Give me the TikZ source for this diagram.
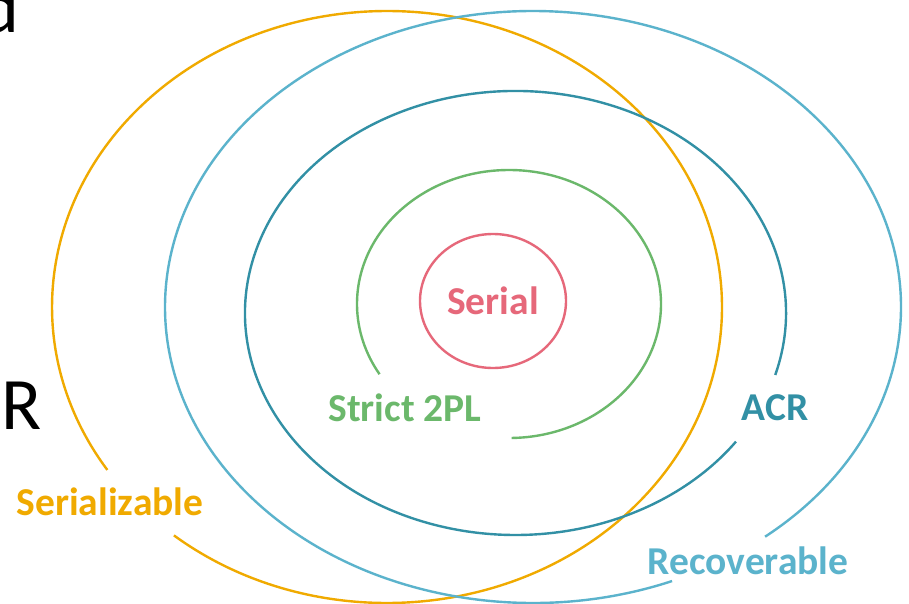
\documentclass[tikz,border=0pt]{standalone}
\usepackage{fontspec}
\setmainfont{Carlito}
\definecolor{serialc}{HTML}{E6687A}
\definecolor{strictc}{HTML}{6BB86B}
\definecolor{acrc}{HTML}{3290A5}
\definecolor{recc}{HTML}{5BB3CC}
\definecolor{serzc}{HTML}{F0AA00}
\tikzset{
  ring/.style={line width=2.4pt},
  setlabel/.style={inner sep=0pt, font=\fontsize{39.5}{41}\selectfont\bfseries},
  stray/.style={inner sep=0pt, font=\fontsize{74}{76}\selectfont, text=black}
}
\begin{document}
\begin{tikzpicture}[x=1pt,y=1pt]
\useasboundingbox (0,0) rectangle (909,-604);
\clip (0,0) rectangle (909,-604);
\fill[white] (0,0) rectangle (909,-604);

% centres of the nested sets
\coordinate (cSerz) at (387,-307);
\coordinate (cRec)  at (533,-307);
\coordinate (cAcr)  at (515.5,-313);
\coordinate (cStr)  at (509,-304);
\coordinate (cSer)  at (493,-301);

% Serializable (open at lower left)
\draw[ring, serzc] ([shift={(230.5:335pt and 296pt)}]cSerz)
  arc[start angle=230.5, end angle=573.4, x radius=335pt, y radius=296pt];
% Recoverable (open at lower right)
\draw[ring, recc] ([shift={(309.1:368pt and 296pt)}]cRec)
  arc[start angle=309.1, end angle=652.2, x radius=368pt, y radius=296pt];
% ACR (open at right)
\draw[ring, acrc] ([shift={(-16.2:270.5pt and 222pt)}]cAcr)
  arc[start angle=-16.2, end angle=324.6, x radius=270.5pt, y radius=222pt];
% Strict 2PL (open at lower left)
\draw[ring, strictc] ([shift={(271:152pt and 134pt)}]cStr)
  arc[start angle=271, end angle=571.6, x radius=152pt, y radius=134pt];
% Serial
\draw[ring, serialc] (cSer) ellipse[x radius=73pt, y radius=67pt];

% set labels
\node[setlabel, text=serialc] (lSer) at (493,-301) {Serial};
\node[setlabel, text=strictc] (lStr) at (405,-408) {Strict 2PL};
\node[setlabel, text=acrc]    (lAcr) at (775,-408) {ACR};
\node[setlabel, text=serzc]   (lSerz) at (110,-502) {Serializable};
\node[setlabel, text=recc]    (lRec) at (748,-561) {Recoverable};

% letters running off the edge
\node[stray, anchor=base east] (sd) at (20,-33) {d};
\node[stray, anchor=base west] (sR) at (1,-429) {R};
\end{tikzpicture}
\end{document}
